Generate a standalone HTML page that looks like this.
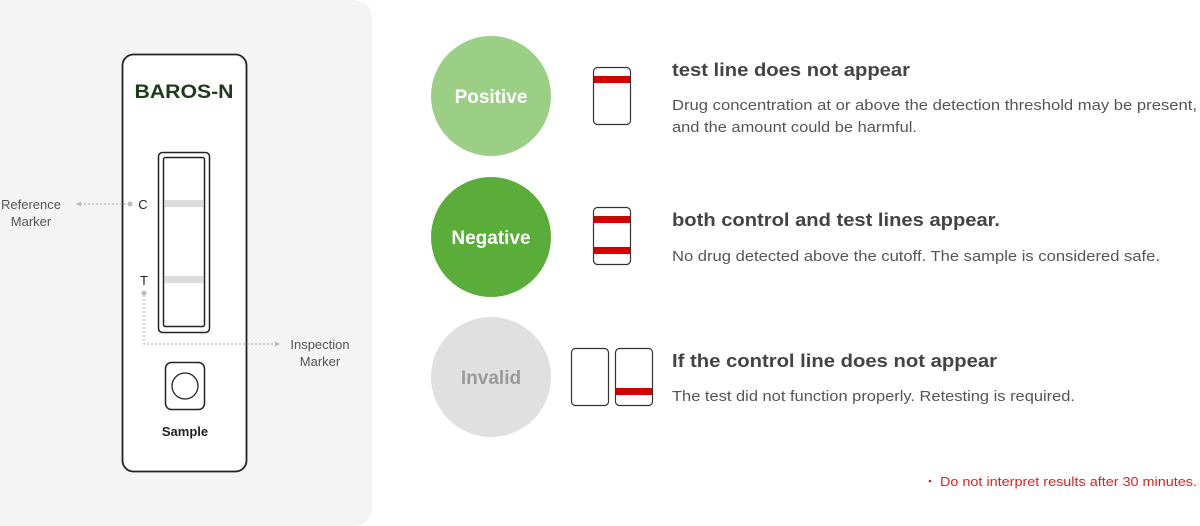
<!DOCTYPE html>
<html><head><meta charset="utf-8"><style>
html,body{margin:0;padding:0;background:#fff;}
svg{display:block;font-family:"Liberation Sans",sans-serif;}
</style></head><body>
<svg width="1200" height="526" viewBox="0 0 1200 526" xmlns="http://www.w3.org/2000/svg">
<path d="M0 0 H352 Q372 0 372 20 V506 Q372 526 352 526 H0 Z" fill="#f4f4f4"/>
<rect x="122.5" y="54.5" width="124" height="417" rx="11" fill="#fff" stroke="#222" stroke-width="1.8"/>
<text x="184" y="98" text-anchor="middle" font-size="19" font-weight="bold" fill="#1f3a1a" textLength="99" lengthAdjust="spacingAndGlyphs">BAROS-N</text>
<rect x="158.5" y="152.5" width="51" height="180" rx="4" fill="#fff" stroke="#222" stroke-width="1.5"/>
<rect x="163.5" y="157.5" width="41" height="169" rx="2" fill="#fff" stroke="#222" stroke-width="1.5"/>
<rect x="165" y="200" width="38" height="7" fill="#dcdcdc"/>
<rect x="165" y="276" width="38" height="7" fill="#dcdcdc"/>
<text x="143" y="209" text-anchor="middle" font-size="13" fill="#222">C</text>
<text x="144" y="285" text-anchor="middle" font-size="13" fill="#222">T</text>
<line x1="80" y1="204" x2="128" y2="204" stroke="#bbb" stroke-width="1.2" stroke-dasharray="2,2"/>
<circle cx="130" cy="204" r="2.5" fill="#bbb"/>
<path d="M76 204 L81 201.5 L81 206.5Z" fill="#bbb"/>
<circle cx="144" cy="293" r="2.5" fill="#bbb"/>
<polyline points="144,295 144,344 275,344" fill="none" stroke="#bbb" stroke-width="1.2" stroke-dasharray="2,2"/>
<path d="M280 344 L275 341.5 L275 346.5Z" fill="#bbb"/>
<text x="31" y="209" text-anchor="middle" font-size="13" fill="#555">Reference</text>
<text x="31" y="226" text-anchor="middle" font-size="13" fill="#555">Marker</text>
<text x="320" y="349" text-anchor="middle" font-size="13" fill="#555">Inspection</text>
<text x="320" y="366" text-anchor="middle" font-size="13" fill="#555">Marker</text>
<rect x="165.5" y="362.5" width="39" height="47" rx="6" fill="#fff" stroke="#222" stroke-width="1.5"/>
<circle cx="185" cy="386" r="13" fill="#fff" stroke="#222" stroke-width="1.3"/>
<text x="185" y="436" text-anchor="middle" font-size="13" font-weight="bold" fill="#222">Sample</text>

<circle cx="491" cy="96" r="60" fill="#9ccf86"/>
<text x="491" y="103" text-anchor="middle" font-size="19" font-weight="bold" fill="#fff">Positive</text>
<circle cx="491" cy="237" r="60" fill="#5aad38"/>
<text x="491" y="244" text-anchor="middle" font-size="19" font-weight="bold" fill="#fff">Negative</text>
<circle cx="491" cy="377" r="60" fill="#e0e0e0"/>
<text x="491" y="384" text-anchor="middle" font-size="19" font-weight="bold" fill="#999">Invalid</text>

<rect x="593.5" y="67.5" width="37" height="57" rx="4" fill="#fff" stroke="#333" stroke-width="1.2"/>
<rect x="594" y="76" width="36" height="7" fill="#d40000"/>
<rect x="593.5" y="207.5" width="37" height="57" rx="4" fill="#fff" stroke="#333" stroke-width="1.2"/>
<rect x="594" y="216" width="36" height="7" fill="#d40000"/>
<rect x="594" y="247" width="36" height="7" fill="#d40000"/>
<rect x="571.5" y="348.5" width="37" height="57" rx="4" fill="#fff" stroke="#333" stroke-width="1.2"/>
<rect x="615.5" y="348.5" width="37" height="57" rx="4" fill="#fff" stroke="#333" stroke-width="1.2"/>
<rect x="616" y="388" width="36" height="7" fill="#d40000"/>

<g fill="#444" font-weight="bold" font-size="18">
<text x="672" y="76" textLength="238" lengthAdjust="spacingAndGlyphs">test line does not appear</text>
<text x="672" y="226" textLength="328" lengthAdjust="spacingAndGlyphs">both control and test lines appear.</text>
<text x="672" y="367" textLength="325" lengthAdjust="spacingAndGlyphs">If the control line does not appear</text>
</g>
<g fill="#555" font-size="15">
<text x="672" y="110" textLength="525" lengthAdjust="spacingAndGlyphs">Drug concentration at or above the detection threshold may be present,</text>
<text x="672" y="132" textLength="245" lengthAdjust="spacingAndGlyphs">and the amount could be harmful.</text>
<text x="672" y="261" textLength="488" lengthAdjust="spacingAndGlyphs">No drug detected above the cutoff. The sample is considered safe.</text>
<text x="672" y="401" textLength="403" lengthAdjust="spacingAndGlyphs">The test did not function properly. Retesting is required.</text>
</g>
<circle cx="930" cy="481" r="1.3" fill="#e02020"/>
<text x="940" y="486" font-size="13" fill="#e02020" textLength="257" lengthAdjust="spacingAndGlyphs">Do not interpret results after 30 minutes.</text>
</svg>
</body></html>
